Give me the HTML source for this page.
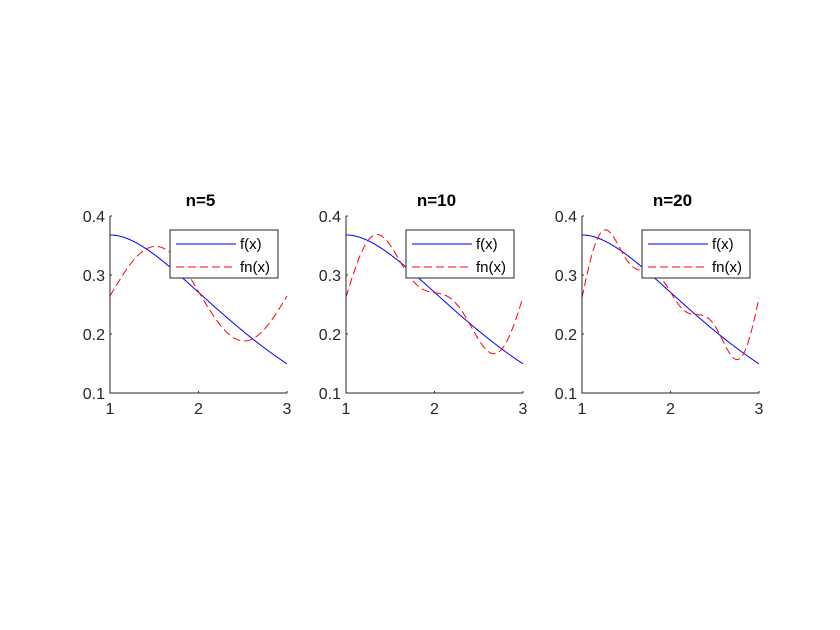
<!DOCTYPE html>
<html><head><meta charset="utf-8"><style>
body{margin:0;background:#fff}
svg{display:block;font-family:"Liberation Sans",Arial,sans-serif}
</style></head><body>
<svg id="s" width="840" height="630" xmlns="http://www.w3.org/2000/svg"></svg>
<script>
(function(){
var sv=document.getElementById('s');
function f(x){return x*Math.exp(-x);}
var NN=4000;
function coeffs(K){
  var a=[],b=[];
  for(var k=0;k<=K;k++){var sa=0,sb=0;
    for(var i=0;i<NN;i++){var x=1+2*(i+0.5)/NN,t=Math.PI*k*(x-1);sa+=f(x)*Math.cos(t);sb+=f(x)*Math.sin(t);}
    a.push(sa*2/NN);b.push(sb*2/NN);}
  return [a,b];
}
function fn(x,c){var a=c[0],b=c[1];var v=a[0]/2;for(var k=1;k<a.length;k++){var t=Math.PI*k*(x-1);v+=a[k]*Math.cos(t)+b[k]*Math.sin(t);}return v;}
var h='';
var lefts=[110,346,582],W=177,yt=216,yb=393;
var Ks=[1,2,3];
[5,10,20].forEach(function(n,j){
  var L=lefts[j];
  var X=function(x){return L+(x-1)/2*W;}, Y=function(y){return yb-(y-0.1)/0.3*(yb-yt);};
  var c=coeffs(Ks[j]);
  var p1='',p2='';
  for(var i=0;i<=300;i++){var x=1+2*i/300;p1+=(i?'L':'M')+X(x).toFixed(2)+' '+Y(f(x)).toFixed(2);p2+=(i?'L':'M')+X(x).toFixed(2)+' '+Y(fn(x,c)).toFixed(2);}
  h+='<path d="'+p1+'" fill="none" stroke="#0000ff" stroke-width="1"/>';
  h+='<path d="'+p2+'" fill="none" stroke="#ff0000" stroke-width="1" stroke-dasharray="8,4"/>';
  h+='<path d="M'+L+' '+yt+'V'+yb+'H'+(L+W)+'" fill="none" stroke="#262626" stroke-width="1"/>';
  [0.1,0.2,0.3,0.4].forEach(function(v){h+='<line x1="'+L+'" x2="'+(L+2)+'" y1="'+Y(v)+'" y2="'+Y(v)+'" stroke="#262626"/><text x="'+(L-5)+'" y="'+(Y(v)+6)+'" font-size="16" text-anchor="end" fill="#262626">'+v.toFixed(1)+'</text>';});
  [1,2,3].forEach(function(v){h+='<line x1="'+X(v)+'" x2="'+X(v)+'" y1="'+yb+'" y2="'+(yb-2)+'" stroke="#262626"/><text x="'+X(v)+'" y="'+(yb+21)+'" font-size="16" text-anchor="middle" fill="#262626">'+v+'</text>';});
  h+='<text x="'+(L+W/2+2)+'" y="206" font-size="17" font-weight="bold" text-anchor="middle">n='+n+'</text>';
  var lx=L+60;
  h+='<rect x="'+lx+'" y="230" width="108" height="48" fill="#fff" stroke="#262626" stroke-width="1"/>';
  h+='<line x1="'+(lx+6)+'" x2="'+(lx+66)+'" y1="244" y2="244" stroke="#0000ff"/><text x="'+(lx+70)+'" y="249" font-size="15" fill="#000">f(x)</text>';
  h+='<line x1="'+(lx+6)+'" x2="'+(lx+66)+'" y1="267" y2="267" stroke="#ff0000" stroke-dasharray="8,4"/><text x="'+(lx+70)+'" y="272" font-size="15" fill="#000">fn(x)</text>';
});
sv.innerHTML=h;
})();
</script>
</body></html>
